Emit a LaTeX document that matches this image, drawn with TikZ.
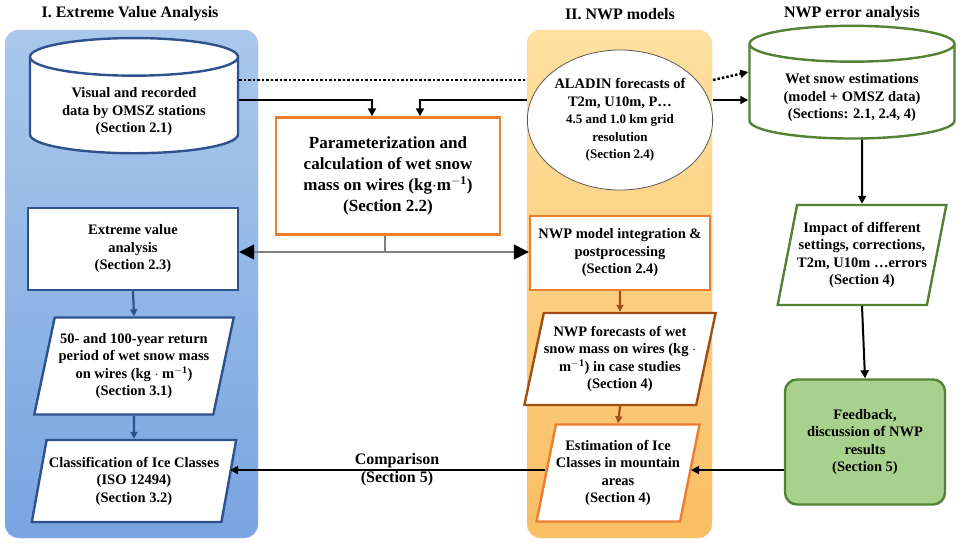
\documentclass[tikz,border=0pt]{standalone}
\usepackage{fontspec}
\setmainfont{Liberation Serif}
\usetikzlibrary{shapes.geometric,arrows.meta,positioning}
\definecolor{dblue}{RGB}{47,82,143}
\definecolor{dorange}{RGB}{237,125,49}
\definecolor{dbrown}{RGB}{160,80,20}
\definecolor{dgreen}{RGB}{84,130,53}
\definecolor{lgreen}{RGB}{169,209,142}
\definecolor{btop}{RGB}{170,200,235}
\definecolor{bbot}{RGB}{120,165,225}
\definecolor{otop}{RGB}{255,225,160}
\definecolor{obot}{RGB}{250,190,100}
\begin{document}
\begin{tikzpicture}[x=1pt,y=-1pt,
  txt/.style={font=\bfseries\fontsize{14.5}{17.5}\selectfont,align=center},
  box/.style={txt,draw,line width=2.4pt,fill=white},
  para/.style={box,trapezium,trapezium left angle=74,trapezium right angle=106,trapezium stretches=true,inner xsep=0pt,inner ysep=1pt},
  arr/.style={-{Triangle[length=8pt,width=8pt]},line width=2pt},
  sarr/.style={-{Triangle[length=7pt,width=7pt]},line width=2.2pt},
  ttl/.style={font=\bfseries\fontsize{16}{18}\selectfont}]
\useasboundingbox (0,0) rectangle (973,542);
% backgrounds
\shade[rounded corners=14pt,top color=btop,bottom color=bbot,draw=blue!30] (5,30) rectangle (258,538);
\shade[rounded corners=14pt,top color=otop,bottom color=obot,draw=orange!40] (527,30) rectangle (712,538);
\node[ttl] (t1) at (130,14) {I. Extreme Value Analysis};
\node[ttl] (t2) at (620,14) {II. NWP models};
\node[ttl] (t3) at (852,14) {NWP error analysis};
% nodes
\node[box,cylinder,shape border rotate=90,aspect=0.25,draw=dblue,minimum width=208pt,minimum height=100pt] (cyl1) at (134,108) {\\Visual and recorded\\data by OMSZ stations\\(Section 2.1)};
\node[box,cylinder,shape border rotate=90,aspect=0.25,draw=dgreen,minimum width=205pt,minimum height=112pt] (cyl2) at (852,94) {\\Wet snow estimations\\(model + OMSZ data)\\(Sections: 2.1, 2.4, 4)};
\node[box,ellipse,draw=gray!70!black,line width=0.8pt,minimum width=160pt,minimum height=140pt,inner sep=0pt] (ell) at (620,120) {ALADIN forecasts of\\T2m, U10m, P…\\{\fontsize{13}{15}\selectfont 4.5 and 1.0 km grid}\\{\fontsize{13}{15}\selectfont resolution}\\{\fontsize{13}{15}\selectfont (Section 2.4)}};
\node[box,draw=dorange,minimum width=224pt,minimum height=117pt,font=\bfseries\fontsize{17}{21}\selectfont] (par) at (388,176) {Parameterization and\\calculation of wet snow\\mass on wires (kg$\cdot$m$^{\mathbf{-1}}$)\\(Section 2.2)};
\node[box,draw=dblue,minimum width=210pt,minimum height=82pt] (eva) at (133,249) {Extreme value\\analysis\\(Section 2.3)};
\node[para,draw=dblue,minimum width=200pt,minimum height=97pt] (ret) at (134,366) {50- and 100-year return\\period of wet snow mass\\on wires (kg $\cdot$ m$^{\mathbf{-1}}$)\\(Section 3.1)};
\node[para,draw=dblue,minimum width=205pt,minimum height=82pt] (cls) at (134,481) {Classification of Ice Classes\\(ISO 12494)\\(Section 3.2)};
\node[box,draw=dorange,minimum width=180pt,minimum height=74pt] (nwp) at (620,253) {NWP model integration \&\\postprocessing\\(Section 2.4)};
\node[para,draw=dbrown,minimum width=160pt,minimum height=92pt] (fc) at (620,359) {NWP forecasts of wet\\snow mass on wires (kg $\cdot$\\m$^{\mathbf{-1}}$) in case studies\\(Section 4)};
\node[para,draw=dorange,minimum width=160pt,minimum height=97pt] (est) at (618,473) {Estimation of Ice\\Classes in mountain\\areas\\(Section 4)};
\node[para,draw=dgreen,minimum width=165pt,minimum height=100pt] (imp) at (862,255) {Impact of different\\settings, corrections,\\T2m, U10m …errors\\(Section 4)};
\node[box,draw=dgreen,fill=lgreen,rounded corners=12pt,minimum width=160pt,minimum height=125pt] (fb) at (865,442) {Feedback,\\discussion of NWP\\results\\(Section 5)};
\node[txt,font=\bfseries\fontsize{16}{18}\selectfont] (cmp) at (397,470) {Comparison\\(Section 5)};
% connectors
\coordinate (d1) at (cyl1.east|-0,80);
\coordinate (d2) at (cyl2.west|-0,72);
\draw[line width=2.5pt,dotted] (d1) -- (ell.west|-0,80);
\draw[line width=2.5pt,dotted,-{Triangle[length=8pt,width=8pt]}] (ell.east|-0,80) -- (d2);
\coordinate (a1) at (372,100);
\draw[arr] (cyl1.east|-a1) -- (a1) -- (a1|-par.north);
\coordinate (a2) at (420,100);
\draw[arr] (ell.west|-a2) -- (a2) -- (a2|-par.north);
\draw[arr] (ell.east|-0,100) -- (cyl2.west|-0,100);
\draw[arr] (cyl2.south-|862,0) -- (imp.north);
\draw[arr] (imp.south) -- (fb.north);
\draw[arr] (fb.west|-0,470) -- (est.east|-0,470);
\draw[arr] (est.west|-0,470) -- (cls.east|-0,470);
\coordinate (g1) at (385,252);
\draw[gray,line width=1.2pt] (par.south-|g1) -- (g1);
\draw[gray,line width=1.2pt,{Triangle[length=15pt,width=15pt,fill=black,color=black]}-{Triangle[length=15pt,width=15pt,fill=black,color=black]}] (eva.east|-g1) -- (nwp.west|-g1);
\draw[sarr,dblue] (eva.south) -- (ret.north);
\draw[sarr,dblue] (ret.south) -- (cls.north);
\draw[sarr,dbrown] (nwp.south) -- (fc.north);
\draw[sarr,dbrown] (fc.south) -- (est.north);
\end{tikzpicture}
\end{document}
